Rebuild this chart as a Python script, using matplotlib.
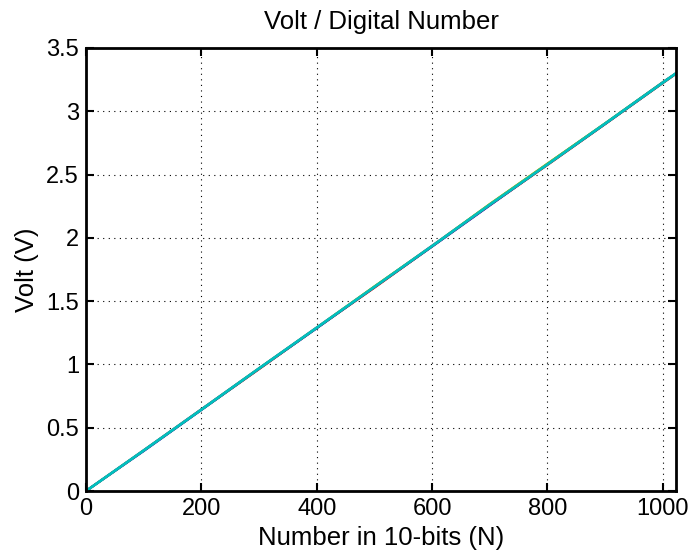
import matplotlib.pyplot as plt

plt.rcParams['font.family'] = ['Liberation Sans', 'DejaVu Sans']

# Digital numbers read along the x axis
digital = [0, 100, 200, 300, 400, 500, 600, 700, 800, 900, 1000, 1023]

voltBlue = [0.0, 0.315, 0.640, 0.965, 1.285, 1.610, 1.930, 2.255, 2.580, 2.900, 3.225, 3.300]
voltGreen = [0.0, 0.320, 0.645, 0.970, 1.290, 1.615, 1.935, 2.265, 2.585, 2.905, 3.230, 3.300]
voltRed = [0.0, 0.318, 0.642, 0.962, 1.288, 1.605, 1.932, 2.258, 2.575, 2.898, 3.222, 3.295]
voltMagenta = [0.0, 0.322, 0.646, 0.968, 1.292, 1.612, 1.938, 2.262, 2.582, 2.902, 3.228, 3.300]
voltYellow = [0.0, 0.321, 0.644, 0.967, 1.291, 1.617, 1.936, 2.268, 2.587, 2.904, 3.226, 3.300]
voltBlack = [0.0, 0.319, 0.641, 0.966, 1.287, 1.609, 1.933, 2.259, 2.578, 2.899, 3.224, 3.298]
voltCyan = [0.0, 0.320, 0.643, 0.968, 1.290, 1.612, 1.935, 2.262, 2.580, 2.902, 3.226, 3.300]

fig = plt.figure(figsize=(6.88, 5.58), dpi=100)
ax = fig.add_axes([86 / 688, 1 - 491 / 558, 590 / 688, 443 / 558])

ax.plot(digital, voltBlue, color='#0000ff', lw=1.5)
ax.plot(digital, voltGreen, color='#008000', lw=1.5)
ax.plot(digital, voltRed, color='#ff0000', lw=1.5)
ax.plot(digital, voltMagenta, color='#bf00bf', lw=1.5)
ax.plot(digital, voltYellow, color='#bfbf00', lw=1.5)
ax.plot(digital, voltBlack, color='#404040', lw=1.5)
ax.plot(digital, voltCyan, color='#00bfbf', lw=2)

ax.set_xlim(0, 1023)
ax.set_ylim(0, 3.5)
ax.set_xticks([0, 200, 400, 600, 800, 1000])
ax.set_xticklabels(['0', '200', '400', '600', '800', '1000'])
ax.set_yticks([0, 0.5, 1, 1.5, 2, 2.5, 3, 3.5])
ax.set_yticklabels(['0', '0.5', '1', '1.5', '2', '2.5', '3', '3.5'])

ax.grid(True, color='black', linestyle=(0, (1, 4)), linewidth=0.8)
ax.tick_params(direction='in', length=6, width=1.5, top=True, right=True,
               labelsize=17, pad=5)
for s in ax.spines.values():
    s.set_linewidth(2)

ax.set_title('Volt / Digital Number', fontsize=18.5, pad=14)
ax.set_xlabel('Number in 10-bits (N)', fontsize=18.5, labelpad=4)
ax.set_ylabel('Volt (V)', fontsize=18.5, labelpad=5)

fig.savefig('out.png', dpi=100)
